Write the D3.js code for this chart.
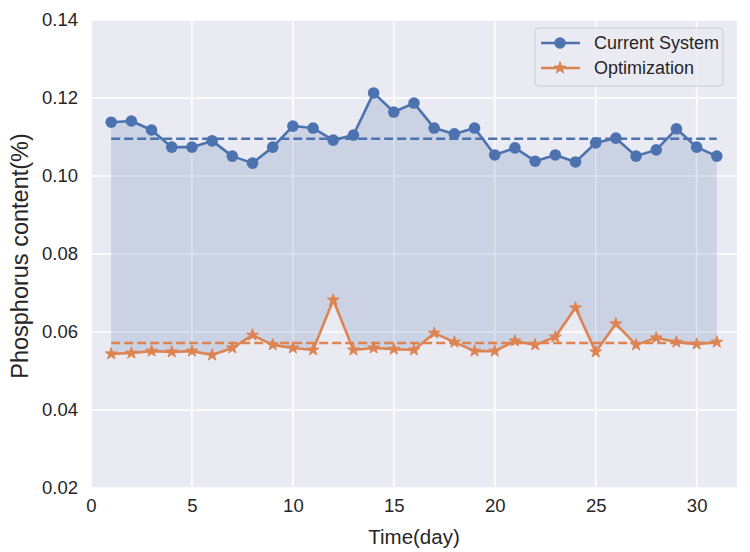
<!DOCTYPE html>
<html>
<head>
<meta charset="utf-8">
<script src="https://cdn.jsdelivr.net/npm/d3@7"></script>
<style>
  html, body { margin: 0; padding: 0; background: #fff; }
  svg { display: block; font-family: "Liberation Sans", Arial, sans-serif; }
</style>
</head>
<body>
<svg id="chart" width="750" height="552"></svg>
<script>
// ---- data ----
const days = d3.range(1, 32);
const currentSystem = [
  0.1138, 0.1141, 0.1118, 0.1074, 0.1074, 0.1090, 0.1051, 0.1033, 0.1074, 0.1128,
  0.1123, 0.1092, 0.1105, 0.1213, 0.1164, 0.1187, 0.1123, 0.1108, 0.1123, 0.1054,
  0.1072, 0.1038, 0.1054, 0.1036, 0.1085, 0.1097, 0.1051, 0.1067, 0.1121, 0.1074,
  0.1051
];
const optimization = [
  0.0544, 0.0546, 0.0551, 0.0549, 0.0551, 0.0541, 0.0559, 0.0592, 0.0567, 0.0559,
  0.0554, 0.0682, 0.0554, 0.0559, 0.0556, 0.0554, 0.0597, 0.0574, 0.0551, 0.0551,
  0.0577, 0.0567, 0.0587, 0.0662, 0.0549, 0.0621, 0.0567, 0.0585, 0.0574, 0.0569,
  0.0574
];
const seriesNames = ["Current System", "Optimization"];
const xTicks = [0, 5, 10, 15, 20, 25, 30];
const yTicks = [0.02, 0.04, 0.06, 0.08, 0.10, 0.12, 0.14];
const xLabel = "Time(day)";
const yLabel = "Phosphorus content(%)";

// ---- layout ----
const svg = d3.select("#chart");
const margin = { left: 91, top: 20, right: 13, bottom: 64 };
const W = 750, H = 552;
const pw = W - margin.left - margin.right;
const ph = H - margin.top - margin.bottom;
const blue = "#4C72B0", orange = "#DD8452";

const x = d3.scaleLinear().domain([0, 32]).range([margin.left, margin.left + pw]);
const y = d3.scaleLinear().domain([0.02, 0.14]).range([margin.top + ph, margin.top]);

// background
svg.append("rect").attr("x", margin.left).attr("y", margin.top)
  .attr("width", pw).attr("height", ph).attr("fill", "#EAEAF2");

// grid
const g = svg.append("g");
g.selectAll(".vg").data(xTicks).join("line")
  .attr("x1", d => x(d)).attr("x2", d => x(d))
  .attr("y1", margin.top).attr("y2", margin.top + ph)
  .attr("stroke", "#fff").attr("stroke-width", 1.6);
g.selectAll(".hg").data(yTicks).join("line")
  .attr("x1", margin.left).attr("x2", margin.left + pw)
  .attr("y1", d => y(d)).attr("y2", d => y(d))
  .attr("stroke", "#fff").attr("stroke-width", 1.6);

// axes (labels only)
const xAxis = d3.axisBottom(x).tickValues(xTicks).tickSize(0).tickPadding(11).tickFormat(d3.format("d"));
const yAxis = d3.axisLeft(y).tickValues(yTicks).tickSize(0).tickPadding(13).tickFormat(d3.format(".2f"));
const gx = svg.append("g").attr("transform", `translate(0,${margin.top + ph})`).call(xAxis);
const gy = svg.append("g").attr("transform", `translate(${margin.left},0)`).call(yAxis);
[gx, gy].forEach(a => {
  a.select(".domain").remove();
  a.selectAll("text").attr("font-size", 18.5).attr("fill", "#262626")
    .attr("font-family", "Liberation Sans, Arial, sans-serif");
});

// fill between series
const pairs = days.map((d, i) => ({ d, a: currentSystem[i], b: optimization[i] }));
svg.append("path").datum(pairs)
  .attr("d", d3.area().x(p => x(p.d)).y0(p => y(p.b)).y1(p => y(p.a)))
  .attr("fill", blue).attr("fill-opacity", 0.2);

// mean lines
const means = [d3.mean(currentSystem), d3.mean(optimization)];
const colors = [blue, orange];
means.forEach((m, k) => {
  svg.append("line")
    .attr("x1", x(days[0])).attr("x2", x(days[days.length - 1]))
    .attr("y1", y(m)).attr("y2", y(m))
    .attr("stroke", colors[k]).attr("stroke-width", 2.4)
    .attr("stroke-dasharray", "9,4");
});

// lines
const line = d3.line().x((v, i) => x(days[i])).y(v => y(v));
[currentSystem, optimization].forEach((s, k) => {
  svg.append("path").datum(s).attr("d", line)
    .attr("fill", "none").attr("stroke", colors[k]).attr("stroke-width", 2.6)
    .attr("stroke-linejoin", "round");
});

// markers
svg.append("g").selectAll("circle").data(currentSystem).join("circle")
  .attr("cx", (v, i) => x(days[i])).attr("cy", v => y(v)).attr("r", 5.8)
  .attr("fill", blue);
const star = d3.symbol().type(d3.symbolStar).size(44);
svg.append("g").selectAll("path").data(optimization).join("path")
  .attr("transform", (v, i) => `translate(${x(days[i])},${y(v)})`)
  .attr("d", star).attr("fill", orange).attr("stroke", orange).attr("stroke-width", 1);

// axis titles
svg.append("text").attr("x", margin.left + pw / 2).attr("y", 544)
  .attr("text-anchor", "middle").attr("font-size", 20.5).attr("fill", "#262626").text(xLabel);
svg.append("text").attr("transform", `translate(28,${margin.top + ph / 2 + 2}) rotate(-90)`)
  .attr("text-anchor", "middle").attr("font-size", 23.5).attr("fill", "#262626").text(yLabel);

// legend
const lg = svg.append("g");
lg.append("rect").attr("x", 535).attr("y", 28).attr("width", 188).attr("height", 58)
  .attr("rx", 4).attr("fill", "#EAEAF2").attr("fill-opacity", 0.8)
  .attr("stroke", "#CCCCCC").attr("stroke-width", 1);
seriesNames.forEach((name, k) => {
  const yy = 43 + k * 25;
  lg.append("line").attr("x1", 541).attr("x2", 580).attr("y1", yy).attr("y2", yy)
    .attr("stroke", colors[k]).attr("stroke-width", 2.6);
  if (k === 0) {
    lg.append("circle").attr("cx", 560).attr("cy", yy).attr("r", 5.8).attr("fill", blue);
  } else {
    lg.append("path").attr("transform", `translate(560,${yy})`).attr("d", star)
      .attr("fill", orange).attr("stroke", orange).attr("stroke-width", 1);
  }
  lg.append("text").attr("x", 594).attr("y", yy).attr("dy", "0.35em")
    .attr("font-size", 18).attr("fill", "#262626").text(name);
});
</script>
</body>
</html>
